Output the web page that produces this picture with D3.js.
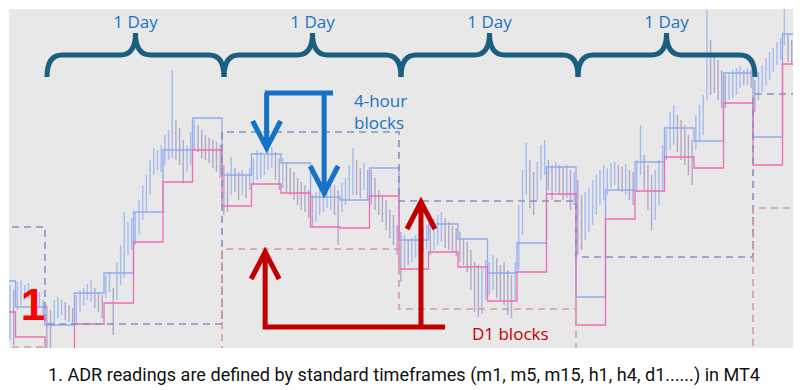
<!DOCTYPE html>
<html>
<head>
<meta charset="utf-8">
<script src="https://cdnjs.cloudflare.com/ajax/libs/d3/7.8.5/d3.min.js"></script>
<style>
body { margin: 0; background: #fff; }
svg { display: block; font-family: "Open Sans", "Noto Sans", sans-serif; }
</style>
</head>
<body>
<svg width="800" height="390"></svg>
<script>
// price is in pips above an arbitrary base, time in hours from the start of day 1
var barStartHour = -4.75, barStepHours = 0.5;
var barHigh = [
  75, 70, 78, 80, 75, 77, 70, 65, 68, 60,
  55, 50, 60, 63, 60, 58, 55, 52,
  65, 70, 72, 76, 80, 72, 68, 65,
  85, 88, 72, 98, 115, 148, 138, 142,
  148, 160, 175, 185, 200, 212, 210, 215,
  225, 230, 290, 240, 232, 220, 215, 228,
  240, 235, 230, 225, 222, 220, 218, 215,
  195, 188, 203, 192, 188, 190, 185, 192,
  202, 210, 208, 205, 210, 213, 208, 202,
  202, 198, 192, 188, 182, 178, 175, 170,
  165, 168, 175, 172, 178, 180, 175, 170,
  177, 182, 195, 212, 200, 192, 197, 190,
  190, 182, 170, 165, 160, 150, 145, 135,
  128, 125, 120, 122, 125, 130, 132, 135,
  135, 142, 145, 148, 142, 138, 134, 132,
  128, 122, 118, 110, 98, 95, 92, 100,
  98, 105, 102, 95, 98, 90, 85, 98,
  155, 190, 217, 200, 188, 198, 215, 220,
  200, 195, 198, 195, 192, 195, 190, 188,
  180, 165, 168, 172, 180, 185, 190, 195,
  192, 197, 198, 195, 193, 196, 190, 188,
  200, 235, 205, 195, 185, 190, 200, 215,
  230, 248, 255, 245, 240, 235, 225, 220,
  245, 255, 265, 350, 320, 305, 300, 290,
  285, 288, 290, 292, 294, 290, 292, 290,
  280, 288, 295, 302, 308, 312, 318, 322,
  352, 325, 320
];
var barLow = [
  20, 15, 50, 55, 60, 62, 50, 48, 52, 42,
  12, 10, 35, 42, 45, 40, 38, 35,
  35, 48, 55, 60, 58, 52, 48, 42,
  62, 68, 25, 60, 75, 82, 105, 110,
  115, 125, 140, 148, 165, 185, 190, 188,
  195, 200, 202, 200, 195, 177, 188, 195,
  210, 208, 202, 200, 197, 192, 188, 182,
  145, 148, 165, 168, 160, 165, 162, 170,
  175, 180, 182, 185, 190, 192, 180, 170,
  172, 168, 165, 160, 155, 150, 148, 142,
  133, 138, 145, 148, 152, 150, 145, 115,
  148, 155, 160, 165, 165, 162, 170, 160,
  155, 150, 145, 138, 130, 122, 115, 105,
  78, 92, 95, 98, 102, 105, 108, 110,
  105, 110, 115, 118, 112, 110, 108, 104,
  98, 95, 88, 70, 48, 43, 46, 60,
  65, 70, 62, 60, 55, 45, 42, 60,
  90, 125, 165, 152, 145, 160, 180, 185,
  170, 160, 168, 165, 160, 162, 150, 155,
  105, 110, 120, 128, 135, 145, 155, 160,
  165, 172, 175, 170, 168, 165, 160, 155,
  168, 185, 170, 150, 130, 140, 155, 170,
  200, 210, 215, 208, 200, 195, 185, 175,
  210, 218, 225, 260, 265, 267, 260, 252,
  252, 260, 262, 265, 272, 275, 274, 272,
  248, 260, 268, 275, 280, 288, 295, 300,
  315, 298, 295
];

// 4-hour blocks, starting 8 hours before day 1
var blockStartHour = -8, blockHours = 4;
var blockHigh = [79, 53, 35, 67, 87, 148, 210, 242, 185, 206, 197, 163, 160, 192,
  120, 136, 121, 87, 117, 193, 63, 170, 198, 232, 219, 287, 223, 326];
var blockLow = [48, 23, 2, 36, 57, 118, 178, 210, 154, 176, 167, 133, 132, 164,
  91, 108, 93, 59, 88, 166, 35, 141, 169, 203, 192, 257, 195, 296];

// D1 blocks, starting one day before day 1
var dayStartHour = -24, dayHours = 24;
var dayHigh = [133, 36, 228, 159, 103, 266];
var dayLow = [13, -5, 111, 51, -10, 152];
var dayLabels = ["1 Day", "1 Day", "1 Day", "1 Day"];

var caption = "1. ADR readings are defined by standard timeframes (m1, m5, m15, h1, h4, d1......) in MT4";

var svg = d3.select("svg");
var plot = { left: 9, top: 9, right: 793, bottom: 348 };

var x = d3.scaleLinear().domain([0, 96]).range([45, 753]);
var y = d3.scaleLinear().domain([12, 351]).range([348, 9]);

svg.append("defs").append("clipPath").attr("id", "clip")
  .append("rect")
  .attr("x", plot.left).attr("y", plot.top)
  .attr("width", plot.right - plot.left).attr("height", plot.bottom - plot.top);

svg.append("rect")
  .attr("x", plot.left).attr("y", plot.top)
  .attr("width", plot.right - plot.left).attr("height", plot.bottom - plot.top)
  .attr("fill", "#e8e8e8");

var chart = svg.append("g").attr("clip-path", "url(#clip)");

// price bars
var bars = barHigh.map(function(h, i) {
  return { t: barStartHour + i * barStepHours, hi: h, lo: barLow[i] };
});
chart.append("g").selectAll("line").data(bars).enter().append("line")
  .attr("x1", function(d) { return x(d.t); })
  .attr("x2", function(d) { return x(d.t); })
  .attr("y1", function(d) { return y(d.hi); })
  .attr("y2", function(d) { return y(d.lo); })
  .attr("stroke", function(d, i) {
    if (i == 0) return "#94b0f2";
    var prev = bars[i - 1];
    return (d.hi + d.lo) >= (prev.hi + prev.lo) ? "#94b0f2" : "#a398c2";
  })
  .attr("stroke-width", 1.4)
  .attr("opacity", 0.8);

function stepData(values, start, len) {
  var pts = values.map(function(v, i) { return { t: start + i * len, v: v }; });
  pts.push({ t: start + values.length * len, v: values[values.length - 1] });
  return pts;
}

var step = d3.line()
  .x(function(d) { return x(d.t); })
  .y(function(d) { return y(d.v); })
  .curve(d3.curveStepAfter);

chart.append("path").datum(stepData(blockHigh, blockStartHour, blockHours))
  .attr("d", step).attr("fill", "none")
  .attr("stroke", "#90aaf0").attr("stroke-width", 1.3);
chart.append("path").datum(stepData(blockLow, blockStartHour, blockHours))
  .attr("d", step).attr("fill", "none")
  .attr("stroke", "#f06cb4").attr("stroke-width", 1.3);

chart.append("path").datum(stepData(dayHigh, dayStartHour, dayHours))
  .attr("d", step).attr("fill", "none")
  .attr("stroke", "#908cc4").attr("stroke-width", 1.6)
  .attr("stroke-dasharray", "7,5");
chart.append("path").datum(stepData(dayLow, dayStartHour, dayHours))
  .attr("d", step).attr("fill", "none")
  .attr("stroke", "#d39c9a").attr("stroke-width", 1.6)
  .attr("stroke-dasharray", "7,5");

// day braces
function bracePath(x0, x1) {
  var xm = (x0 + x1) / 2, r = 15, yBar = 55, yEnd = 77, yTip = 33;
  return "M" + x0 + "," + yEnd + "Q" + x0 + "," + yBar + " " + (x0 + r) + "," + yBar +
    "L" + (xm - r) + "," + yBar + "Q" + xm + "," + yBar + " " + xm + "," + yTip +
    "Q" + xm + "," + yBar + " " + (xm + r) + "," + yBar +
    "L" + (x1 - r) + "," + yBar + "Q" + x1 + "," + yBar + " " + x1 + "," + yEnd;
}

var braces = svg.append("g");
dayLabels.forEach(function(label, i) {
  var x0 = x(i * 24) + 2, x1 = x((i + 1) * 24) + 2;
  braces.append("path").attr("d", bracePath(x0, x1))
    .attr("fill", "none").attr("stroke", "#1b5f80").attr("stroke-width", 5);
  braces.append("text").attr("x", (x0 + x1) / 2).attr("y", 28)
    .attr("text-anchor", "middle").attr("font-size", 17).attr("fill", "#1a73c4")
    .text(label);
});

// arrows
function chevron(px, py, dir) {
  return "M" + (px - 14) + "," + (py - dir * 27) + "L" + px + "," + py + "L" + (px + 14) + "," + (py - dir * 27);
}

var blue = "#1672c6";
var bl = x(30.05), br = x(37.85), btop = y(267);
svg.append("path")
  .attr("d", "M" + x(29.8) + "," + btop + "L" + x(39.05) + "," + btop +
    "M" + bl + "," + btop + "L" + bl + "," + y(212) +
    "M" + br + "," + btop + "L" + br + "," + y(167) +
    chevron(bl, y(212), 1) + chevron(br, y(167), 1))
  .attr("fill", "none").attr("stroke", blue).attr("stroke-width", 5);

svg.append("text").attr("x", 354).attr("y", 107).attr("font-size", 17).attr("fill", "#1a73c4").text("4-hour");
svg.append("text").attr("x", 354).attr("y", 129).attr("font-size", 17).attr("fill", "#1a73c4").text("blocks");

var red = "#c00000";
var rl = x(29.85), rr = x(50.98), rbot = y(33);
svg.append("path")
  .attr("d", "M" + x(54.25) + "," + rbot + "L" + rl + "," + rbot + "L" + rl + "," + y(108) +
    "M" + rr + "," + rbot + "L" + rr + "," + y(158) +
    chevron(rl, y(108), -1) + chevron(rr, y(158), -1))
  .attr("fill", "none").attr("stroke", red).attr("stroke-width", 5);

svg.append("text").attr("x", 472).attr("y", 340).attr("font-size", 17).attr("fill", red).text("D1 blocks");

svg.append("text").attr("x", 33).attr("y", 320).attr("text-anchor", "middle")
  .attr("font-family", "Liberation Sans, Arial, sans-serif")
  .attr("font-weight", "bold").attr("font-size", 44).attr("fill", "#ff0000").text("1");

svg.append("text").attr("x", 404).attr("y", 381).attr("text-anchor", "middle")
  .attr("font-family", "Roboto, sans-serif").attr("font-size", 18).attr("fill", "#111")
  .attr("textLength", 712).attr("lengthAdjust", "spacingAndGlyphs")
  .text(caption);
</script>
</body>
</html>
